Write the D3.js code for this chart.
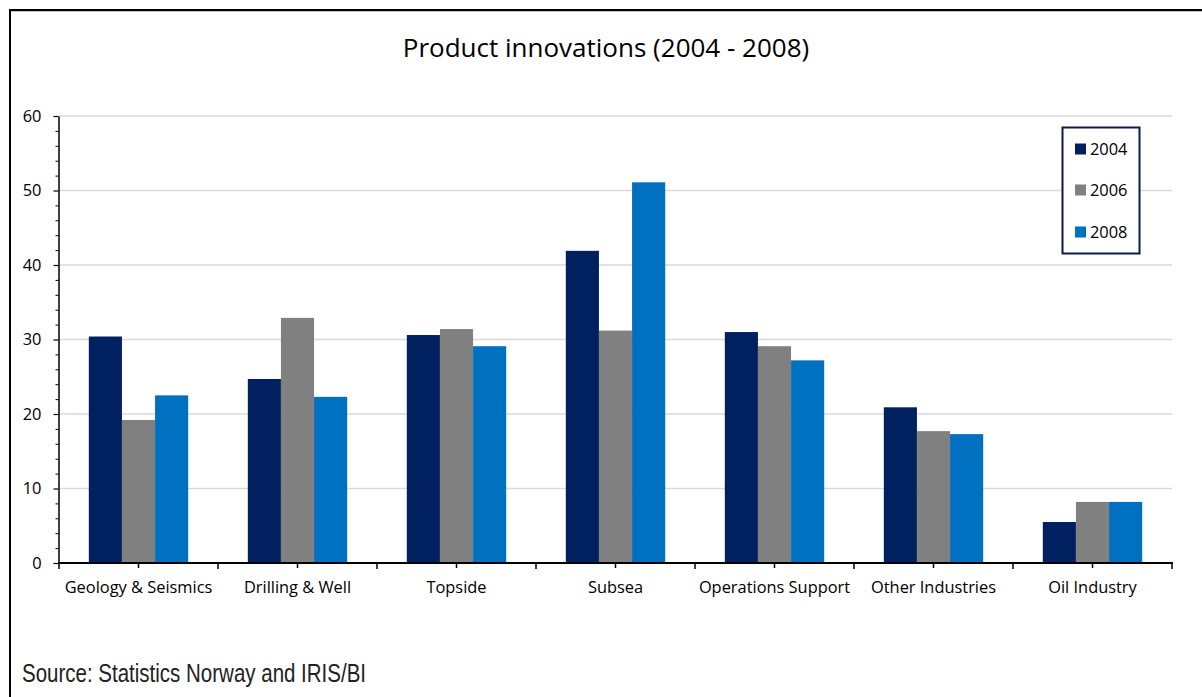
<!DOCTYPE html>
<html><head><meta charset="utf-8">
<script src="https://cdn.jsdelivr.net/npm/d3@7"></script>
<style>body{margin:0;background:#fff;} svg{display:block;}</style>
</head><body>
<script>
const categories = ["Geology & Seismics","Drilling & Well","Topside","Subsea","Operations Support","Other Industries","Oil Industry"];
const seriesNames = ["2004","2006","2008"];
const values2004 = [30.4, 24.7, 30.6, 41.9, 31.0, 20.9, 5.5];
const values2006 = [19.2, 32.9, 31.4, 31.2, 29.1, 17.7, 8.2];
const values2008 = [22.5, 22.3, 29.1, 51.1, 27.2, 17.3, 8.2];
const yTicks = [0,10,20,30,40,50,60];
const colors = ["#002060","#808080","#0070C0"];
const seriesValues = [values2004, values2006, values2008];

const W = 1202, H = 697;
const svg = d3.select("body").append("svg").attr("width", W).attr("height", H);
const font = "'Open Sans', sans-serif";
const fs = 16.4;

// outer frame
svg.append("line").attr("x1",9).attr("x2",W).attr("y1",11.5).attr("y2",11.5).attr("stroke","#c8c8c8").attr("stroke-width",1);
svg.append("path").attr("d",`M10,${H} V10 H${W}`).attr("fill","none").attr("stroke","#000").attr("stroke-width",2);

const x0 = 59, x1 = 1172, yTop = 116, yBot = 563;
const x = d3.scaleBand().domain(categories).range([x0, x1]).paddingInner(0).paddingOuter(0);
const y = d3.scaleLinear().domain([0,60]).range([yBot, yTop]);
const xs = d3.scaleBand().domain(seriesNames).range([0, x.bandwidth()]).paddingInner(0).paddingOuter(0.9);

// gridlines
svg.append("g").selectAll("line").data(yTicks.filter(d=>d>0)).join("line")
  .attr("x1", x0).attr("x2", x1).attr("y1", d=>y(d)).attr("y2", d=>y(d))
  .attr("stroke","#d9d9d9").attr("stroke-width",1.5);

// bars
const groups = svg.append("g").selectAll("g").data(categories).join("g")
  .attr("transform", d=>`translate(${x(d)},0)`);
groups.selectAll("rect").data((c,i)=>seriesNames.map((s,j)=>({s, v: seriesValues[j][i], j})))
  .join("rect")
  .attr("x", d=>xs(d.s)).attr("width", xs.bandwidth())
  .attr("y", d=>y(d.v)).attr("height", d=>yBot - y(d.v))
  .attr("fill", d=>colors[d.j]);

// y axis
const yAxis = d3.axisLeft(y).tickValues(yTicks).tickSize(5).tickSizeOuter(0).tickPadding(12);
const gy = svg.append("g").attr("transform",`translate(${x0-0.5},0)`).call(yAxis);
gy.select(".domain").attr("stroke","#000").attr("stroke-width",1.5);
gy.selectAll(".tick line").attr("stroke","#000").attr("stroke-width",1.2);
gy.selectAll(".tick text").attr("font-family",font).attr("font-size",fs).attr("fill","#000");
const minorY = d3.range(0,61,2).filter(d=>d%10!==0);
gy.append("g").selectAll("line").data(minorY).join("line")
  .attr("x1",-3).attr("x2",0).attr("y1",d=>y(d)+0.5).attr("y2",d=>y(d)+0.5)
  .attr("stroke","#000").attr("stroke-width",1);

// x axis
const gx = svg.append("g").attr("transform",`translate(0,${yBot})`);
gx.append("line").attr("x1",x0-1).attr("x2",x1+1).attr("y1",0).attr("y2",0).attr("stroke","#000").attr("stroke-width",2);
const boundaries = categories.map(c=>x(c)).concat([x1]);
gx.selectAll("line.b").data(boundaries).join("line").attr("class","b")
  .attr("x1",d=>d).attr("x2",d=>d).attr("y1",0).attr("y2",6).attr("stroke","#000").attr("stroke-width",1.5);
gx.selectAll("line.c").data(categories).join("line").attr("class","c")
  .attr("x1",d=>x(d)+x.bandwidth()/2).attr("x2",d=>x(d)+x.bandwidth()/2).attr("y1",0).attr("y2",5).attr("stroke","#000").attr("stroke-width",1.5);
gx.selectAll("text").data(categories).join("text")
  .attr("x",d=>x(d)+x.bandwidth()/2).attr("y",30)
  .attr("text-anchor","middle").attr("font-family",font).attr("font-size",fs).attr("fill","#000")
  .text(d=>d);

// title
svg.append("text").attr("x",606).attr("y",57).attr("text-anchor","middle")
  .attr("font-family",font).attr("font-size",26).attr("fill","#000")
  .text("Product innovations (2004 - 2008)");

// legend
const lg = svg.append("g").attr("transform","translate(1062,127)");
lg.append("rect").attr("x",0.5).attr("y",0.5).attr("width",77).attr("height",126)
  .attr("fill","#fff").attr("stroke","#0d1b45").attr("stroke-width",2);
const ly = [22, 63, 105];
const li = lg.selectAll("g").data(seriesNames).join("g").attr("transform",(d,i)=>`translate(13,${ly[i]})`);
li.append("rect").attr("x",0).attr("y",-5.5).attr("width",11).attr("height",11).attr("fill",(d,i)=>colors[i]);
li.append("text").attr("x",15).attr("y",6).attr("font-family",font).attr("font-size",fs).attr("fill","#000").text(d=>d);

// source
svg.append("text").attr("transform","translate(22,682) scale(0.82,1)")
  .attr("font-family","'Liberation Sans', Arial, sans-serif").attr("font-size",25).attr("fill","#222")
  .text("Source: Statistics Norway and IRIS/BI");
</script>
</body></html>
